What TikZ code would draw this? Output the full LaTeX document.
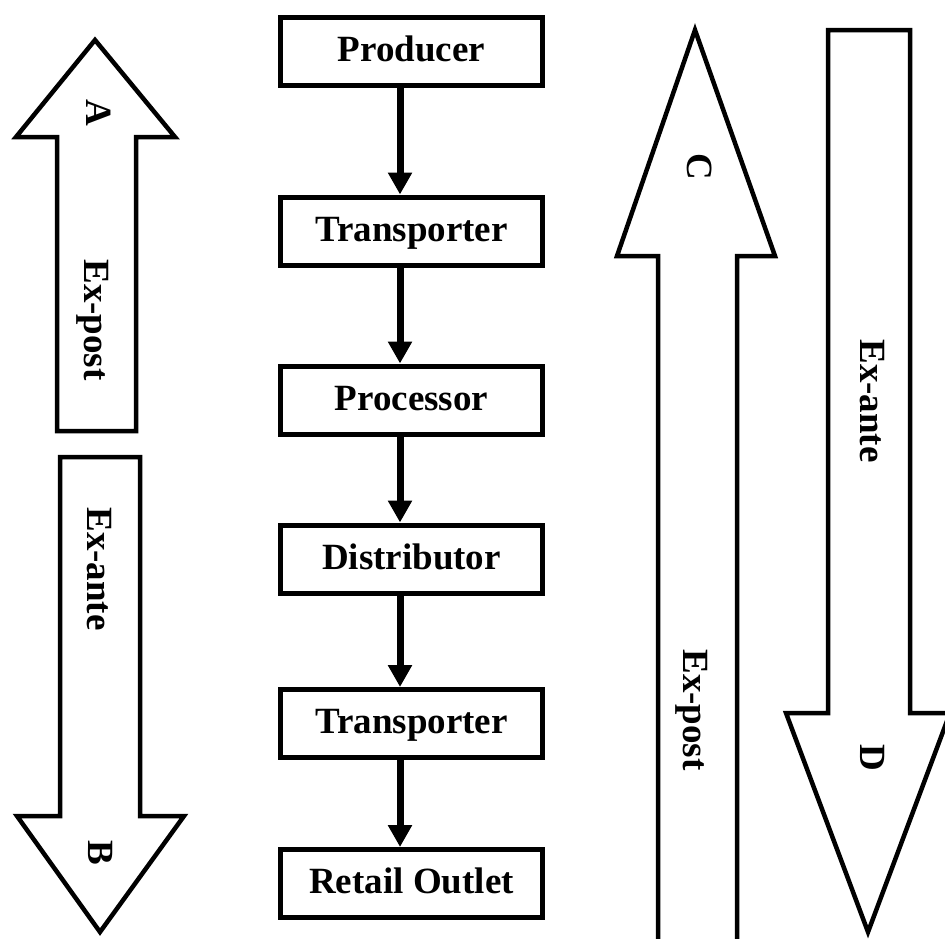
\documentclass[tikz,border=0pt]{standalone}
\usepackage{fontspec}
\setmainfont{Liberation Serif}
\usetikzlibrary{arrows.meta}
\begin{document}
\begin{tikzpicture}[x=1pt,y=-1pt,
  stage/.style={draw,line width=5pt,minimum width=262pt,minimum height=68pt,
    inner sep=0pt,font=\fontsize{37}{40}\selectfont\bfseries,
    text height=25pt,text depth=4.4pt},
  flow/.style={line width=7pt,-{Triangle[width=23pt,length=22pt]}},
  bigarrow/.style={draw,line width=4.5pt,line join=miter,fill=white},
  vlabel/.style={rotate=-90,inner sep=0pt,
    font=\fontsize{37}{40}\selectfont\bfseries,
    text height=25pt,text depth=0pt}]

% page frame
\clip (0,0) rectangle (945,938);
\fill[white] (0,0) rectangle (945,938);

% ---- block arrows ----
% A: up arrow, upper left
\draw[bigarrow] (95,40) -- (175,137) -- (136,137) -- (136,431) -- (57,431)
  -- (57,137) -- (16,137) -- cycle;
% B: down arrow, lower left
\draw[bigarrow] (60,457) -- (140,457) -- (140,816) -- (184,816) -- (100,932)
  -- (17,816) -- (60,816) -- cycle;
% C: long up arrow
\draw[bigarrow] (658,960) -- (658,256) -- (617,256) -- (695,30) -- (775,256)
  -- (737,256) -- (737,960);
% D: long down arrow
\draw[bigarrow] (828,30) -- (910,30) -- (910,713) -- (950,713) -- (868,932)
  -- (786,713) -- (828,713) -- cycle;

% ---- arrow labels ----
\node[vlabel] (labA)  at (99,113)  {A};
\node[vlabel] (expA)  at (97,320)  {Ex-post};
\node[vlabel] (exaB)  at (100,569) {Ex-ante};
\node[vlabel] (labB)  at (101,853) {B};
\node[vlabel] (labC)  at (700,167) {C};
\node[vlabel] (expC)  at (696,710) {Ex-post};
\node[vlabel] (exaD)  at (873,401) {Ex-ante};
\node[vlabel] (labD)  at (873,758) {D};

% ---- supply chain ----
\node[stage] (prod) at (411.5,51.5)  {Producer};
\node[stage] (tr1)  at (411.5,231)   {Transporter};
\node[stage] (proc) at (411.5,400)   {Processor};
\node[stage] (dist) at (411.5,559)   {Distributor};
\node[stage] (tr2)  at (411.5,723.5) {Transporter};
\node[stage] (ret)  at (411.5,883.5) {Retail Outlet};

\coordinate (lane) at (400,0);
\foreach \a/\b in {prod/tr1,tr1/proc,proc/dist,dist/tr2,tr2/ret}
  \draw[flow] (\a.south -| lane) -- (\b.north -| lane);
\end{tikzpicture}
\end{document}
